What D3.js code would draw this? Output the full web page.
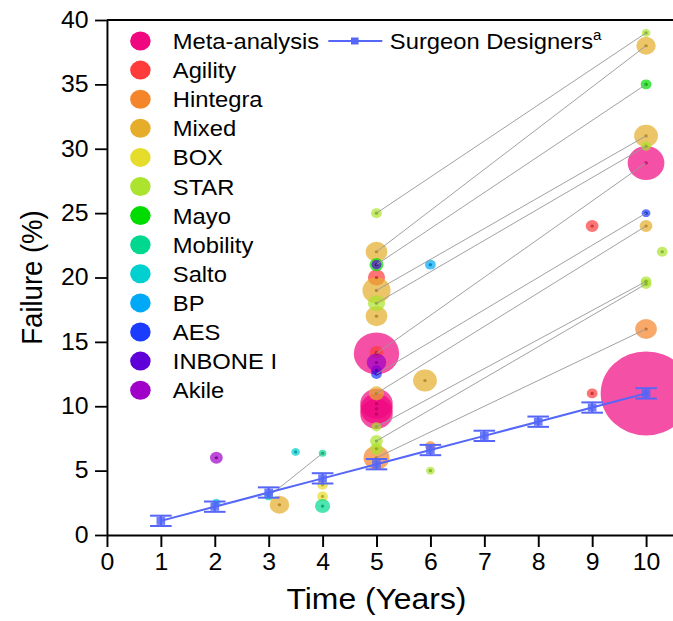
<!DOCTYPE html>
<html lang="en">
<head>
<meta charset="utf-8">
<script src="https://d3js.org/d3.v7.min.js"></script>
<style>
  body { margin: 0; background: #fff; }
  svg { display: block; font-family: Arial, "Liberation Sans", sans-serif; }
  .axis path, .axis line { stroke: #000; stroke-width: 1.8; }
  .axis text { font-size: 23px; fill: #000; }
</style>
</head>
<body>
<div id="chart"></div>
<script>
var studies = ["Meta-analysis", "Agility", "Hintegra", "Mixed", "BOX", "STAR", "Mayo",
               "Mobility", "Salto", "BP", "AES", "INBONE I", "Akile"];
var studyColors = ["#f0067f", "#ff3b3b", "#f5852a", "#e6ad2a", "#e6dc2c", "#abe32e", "#00dc00",
                   "#00d890", "#00d0d0", "#00a8f8", "#1a3cff", "#6000d8", "#a000c8"];

// [study, year, failure %, patients]
var bubbles = [
  ["Meta-analysis", 5, 14.1, 250],
  ["Meta-analysis", 5, 10.2, 128],
  ["Meta-analysis", 5, 9.8, 128],
  ["Meta-analysis", 5, 9.4, 128],
  ["Meta-analysis", 10, 28.9, 164],
  ["Meta-analysis", 10, 11, 1000],
  ["Agility", 5, 20, 36],
  ["Agility", 5, 14.2, 22],
  ["Agility", 9, 24, 20],
  ["Agility", 9, 11, 14],
  ["Hintegra", 5, 6, 82],
  ["Hintegra", 6, 6.9, 14],
  ["Hintegra", 10, 16, 57],
  ["Mixed", 3.2, 2.35, 46],
  ["Mixed", 5, 22, 57],
  ["Mixed", 5, 19, 96],
  ["Mixed", 5, 17, 57],
  ["Mixed", 5, 11, 28],
  ["Mixed", 5.9, 12, 69],
  ["Mixed", 10, 38, 46],
  ["Mixed", 10, 31, 69],
  ["Mixed", 10, 24, 20],
  ["BOX", 4, 3.9, 14],
  ["BOX", 4, 3.0, 14],
  ["STAR", 5, 25, 14],
  ["STAR", 5, 18, 36],
  ["STAR", 5, 8.4, 12],
  ["STAR", 5, 7.3, 20],
  ["STAR", 5, 6.7, 20],
  ["STAR", 6, 5, 9],
  ["STAR", 10, 39, 9],
  ["STAR", 10, 30.2, 12],
  ["STAR", 10.3, 22, 14],
  ["STAR", 10, 19.7, 14],
  ["STAR", 10, 19.5, 14],
  ["Mayo", 5, 21, 24],
  ["Mayo", 10, 35, 14],
  ["Mobility", 3, 3.0, 9],
  ["Mobility", 4, 6.35, 7],
  ["Mobility", 4, 2.25, 28],
  ["Salto", 2.03, 2.5, 9],
  ["Salto", 3.5, 6.45, 9],
  ["BP", 6, 21, 14],
  ["AES", 5, 12.5, 14],
  ["AES", 10, 25, 9],
  ["INBONE I", 5, 21, 12],
  ["INBONE I", 5, 12.8, 14],
  ["Akile", 2.03, 6, 20],
  ["Akile", 5, 13.4, 46]
];

// same study followed up: [year1, failure1, year2, failure2]
var links = [
  [5, 25, 10, 39],
  [5, 22, 10, 38],
  [5, 21, 10, 35],
  [5, 19, 10, 31],
  [5, 18, 10, 30.2],
  [5, 14.1, 10, 28.9],
  [5, 12.5, 10, 25],
  [5, 11, 10, 24],
  [5, 8.4, 10, 19.7],
  [5, 7.3, 10, 19.5],
  [5, 6, 10, 16],
  [3, 3.0, 4, 6.35]
];

var surgeonYears = [1, 2, 3, 4, 5, 6, 7, 8, 9, 10];
var surgeonFailure = [1.1, 2.2, 3.3, 4.4, 5.5, 6.6, 7.7, 8.8, 9.9, 11.0];
var surgeonError = [0.4, 0.4, 0.4, 0.4, 0.4, 0.4, 0.4, 0.4, 0.4, 0.4];

var xTicks = [0, 1, 2, 3, 4, 5, 6, 7, 8, 9, 10];
var yTicks = [0, 5, 10, 15, 20, 25, 30, 35, 40];

// the original picture is a little wider than tall, so stretch x a bit
var stretch = 1.08,
    W = 673 / stretch,
    H = 621;

var svg = d3.select("#chart").append("svg")
    .attr("width", 673)
    .attr("height", 621)
    .attr("viewBox", "0 0 " + W + " " + H)
    .attr("preserveAspectRatio", "none");

var x = d3.scaleLinear().domain([0, 10.5]).range([99, W]);
var y = d3.scaleLinear().domain([0, 40]).range([535, 20]);
var r = d3.scaleSqrt().domain([0, 1000]).range([0, 42]);
var color = d3.scaleOrdinal().domain(studies).range(studyColors);

// bubbles, drawn in legend order
var sorted = bubbles.slice().sort(function(a, b) {
  return studies.indexOf(a[0]) - studies.indexOf(b[0]);
});

var g = svg.append("g");
g.selectAll("circle.bubble")
    .data(sorted).enter()
    .append("circle")
    .attr("class", "bubble")
    .attr("cx", function(d) { return x(d[1]); })
    .attr("cy", function(d) { return y(d[2]); })
    .attr("r", function(d) { return r(d[3]); })
    .style("fill", function(d) { return color(d[0]); })
    .style("fill-opacity", 0.7);

g.selectAll("circle.dot")
    .data(sorted).enter()
    .append("circle")
    .attr("class", "dot")
    .attr("cx", function(d) { return x(d[1]); })
    .attr("cy", function(d) { return y(d[2]); })
    .attr("r", 1.6)
    .style("fill", function(d) { return d3.color(color(d[0])).darker(0.8).formatHex(); })
    .style("fill-opacity", 0.85);

// grey connectors
g.selectAll("line.link")
    .data(links).enter()
    .append("line")
    .attr("x1", function(d) { return x(d[0]); })
    .attr("y1", function(d) { return y(d[1]); })
    .attr("x2", function(d) { return x(d[2]); })
    .attr("y2", function(d) { return y(d[3]); })
    .style("stroke", "#9a9a9a")
    .style("stroke-width", 0.9);

// surgeon designers series
var blue = "#5566f8";
var surgeon = surgeonYears.map(function(t, i) {
  return {t: t, f: surgeonFailure[i], e: surgeonError[i]};
});

svg.append("path")
    .datum(surgeon)
    .attr("d", d3.line().x(function(d) { return x(d.t); }).y(function(d) { return y(d.f); }))
    .style("fill", "none")
    .style("stroke", blue)
    .style("stroke-width", 2);

var eb = svg.selectAll("g.err")
    .data(surgeon).enter()
    .append("g")
    .attr("class", "err")
    .style("stroke", blue)
    .style("stroke-width", 2);

eb.append("line")
    .attr("x1", function(d) { return x(d.t); })
    .attr("x2", function(d) { return x(d.t); })
    .attr("y1", function(d) { return y(d.f - d.e); })
    .attr("y2", function(d) { return y(d.f + d.e); });
eb.append("line")
    .attr("x1", function(d) { return x(d.t) - 10; })
    .attr("x2", function(d) { return x(d.t) + 10; })
    .attr("y1", function(d) { return y(d.f - d.e); })
    .attr("y2", function(d) { return y(d.f - d.e); });
eb.append("line")
    .attr("x1", function(d) { return x(d.t) - 10; })
    .attr("x2", function(d) { return x(d.t) + 10; })
    .attr("y1", function(d) { return y(d.f + d.e); })
    .attr("y2", function(d) { return y(d.f + d.e); });

svg.selectAll("rect.sq")
    .data(surgeon).enter()
    .append("rect")
    .attr("x", function(d) { return x(d.t) - 4; })
    .attr("y", function(d) { return y(d.f) - 4; })
    .attr("width", 8)
    .attr("height", 8)
    .style("fill", blue)
    .style("fill-opacity", 0.85);

// axes
svg.append("g")
    .attr("class", "axis")
    .attr("transform", "translate(0," + y(0) + ")")
    .call(d3.axisBottom(x).tickValues(xTicks).tickSize(12).tickSizeOuter(0).tickPadding(7));

svg.append("g")
    .attr("class", "axis")
    .attr("transform", "translate(" + x(0) + ",0)")
    .call(d3.axisLeft(y).tickValues(yTicks).tickSize(11).tickSizeOuter(0).tickPadding(6));

// top frame
svg.append("line")
    .attr("x1", x(0)).attr("x2", W)
    .attr("y1", y(40)).attr("y2", y(40))
    .style("stroke", "#000")
    .style("stroke-width", 1.8);

svg.append("text")
    .attr("x", x(5))
    .attr("y", 609)
    .attr("text-anchor", "middle")
    .style("font-size", "29.5px")
    .text("Time (Years)");

svg.append("text")
    .attr("transform", "translate(39," + y(20) + ") rotate(-90)")
    .attr("text-anchor", "middle")
    .style("font-size", "27.5px")
    .text("Failure (%)");

// legend
var legend = svg.selectAll("g.legend")
    .data(studies).enter()
    .append("g")
    .attr("class", "legend")
    .attr("transform", function(d, i) { return "translate(130," + (41 + i * 29.1) + ")"; });

legend.append("circle")
    .attr("r", 9.5)
    .style("fill", function(d) { return color(d); });

legend.append("text")
    .attr("x", 30)
    .attr("y", 8)
    .style("font-size", "22px")
    .text(function(d) { return d; });

var sl = svg.append("g").attr("transform", "translate(304,41)");
sl.append("line")
    .attr("x1", 0).attr("x2", 50)
    .style("stroke", blue)
    .style("stroke-width", 2);
sl.append("rect")
    .attr("x", 21).attr("y", -3.5)
    .attr("width", 7).attr("height", 7)
    .style("fill", blue);
var st = sl.append("text")
    .attr("x", 57)
    .attr("y", 8)
    .style("font-size", "22px")
    .text("Surgeon Designers");
st.append("tspan")
    .attr("dy", -9)
    .style("font-size", "14px")
    .text("a");
</script>
</body>
</html>
